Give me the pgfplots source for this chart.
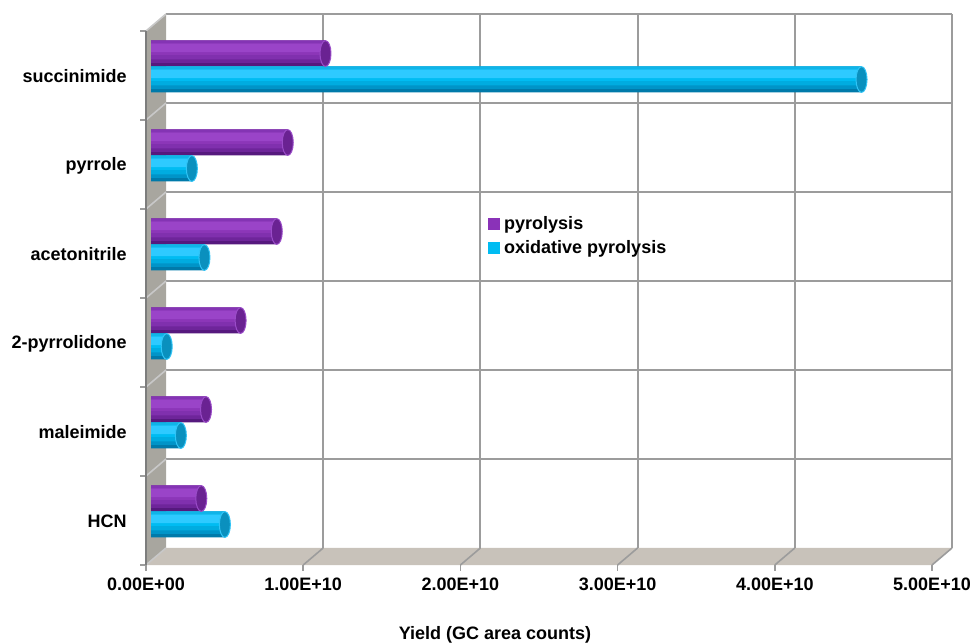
\documentclass[border=0pt]{standalone}
\usepackage{pgfplots}
\usepackage{pgfplotstable}
\pgfplotsset{compat=1.18}
\usepackage{fontspec}
\setmainfont{Liberation Sans}
\usetikzlibrary{shapes.geometric}

% purple cylinder tones, bottom to top
\definecolor{purpA}{HTML}{56197E}
\definecolor{purpB}{HTML}{6E259A}
\definecolor{purpC}{HTML}{8030AE}
\definecolor{purpD}{HTML}{8C36B8}
\definecolor{purpE}{HTML}{9A44C8}
\definecolor{purpF}{HTML}{8434B4}
\definecolor{purpEnd}{HTML}{6A2292}
\definecolor{purpRim}{HTML}{9A4CC8}
\definecolor{purpLeg}{HTML}{8A32B8}
% cyan cylinder tones, bottom to top
\definecolor{cyanA}{HTML}{007AAA}
\definecolor{cyanB}{HTML}{0094C8}
\definecolor{cyanC}{HTML}{00ACE0}
\definecolor{cyanD}{HTML}{00BCF2}
\definecolor{cyanE}{HTML}{2ECAFF}
\definecolor{cyanF}{HTML}{10B4E8}
\definecolor{cyanEnd}{HTML}{0A90BE}
\definecolor{cyanRim}{HTML}{30C4F6}
\definecolor{cyanLeg}{HTML}{00BCF2}
% walls and grid
\definecolor{wallSide}{HTML}{A8A69F}
\definecolor{wallFloor}{HTML}{C8C2BA}
\definecolor{gridGray}{HTML}{9C9C9C}

% yields (GC area counts); pos 0 = HCN ... 5 = succinimide
\pgfplotstableread{
pos pyr     oxid
0   0.32e10 0.47e10
1   0.35e10 0.19e10
2   0.57e10 0.10e10
3   0.80e10 0.34e10
4   0.87e10 0.26e10
5   1.11e10 4.52e10
}\yields

% depth offsets of the front and back planes relative to the bar plane
\tikzset{
  front/.style={shift={(-2.5bp,-4.5bp)}},
  back/.style={shift={(7.5bp,4bp)}},
}
\pgfplotsset{
  cyl/.style={xbar, draw=none, forget plot},
  cap/.style n args={3}{nodes near coords={},
    every node near coord/.append style={ellipse, anchor=center, inner sep=0pt,
      minimum width=5.5bp, minimum height=12.9bp, fill=#1, draw=#2,
      line width=0.5bp, yshift=#3}},
}

\begin{document}
\begin{tikzpicture}
\begin{axis}[
  set layers,
  scale only axis,
  width=393bp, height=267bp,
  xmin=0, xmax=5e10, ymin=-0.5, ymax=5.5,
  clip=false,
  axis line style={draw=none},
  tick style={draw=none},
  scaled x ticks=false,
  xtick={0,1e10,2e10,3e10,4e10,5e10},
  xticklabels={0.00E+00,1.00E+10,2.00E+10,3.00E+10,4.00E+10,5.00E+10},
  ytick={0,1,2,3,4,5},
  yticklabels={HCN,maleimide,2-pyrrolidone,acetonitrile,pyrrole,succinimide},
  ticklabel style={font=\fontsize{9bp}{10.8bp}\selectfont\bfseries, inner sep=0pt},
  xticklabel style={anchor=north, xshift=-2.5bp, yshift=-11bp},
  yticklabel style={anchor=east, xshift=-12bp, yshift=-5bp},
  xlabel={Yield (GC area counts)},
  xlabel style={at={(axis description cs:0.5,0)}, anchor=center,
    xshift=-24.5bp, yshift=-39.5bp, inner sep=0pt,
    font=\fontsize{9bp}{10.8bp}\selectfont\bfseries},
  legend style={at={(axis description cs:0.4288,0.645)}, anchor=north west,
    draw=none, fill=none, inner sep=0pt, row sep=0pt,
    font=\fontsize{9bp}{10.8bp}\selectfont\bfseries,
    cells={anchor=west}},
]
\begin{pgfonlayer}{axis background}
  % floor and side wall
  \fill[wallFloor] ([front]axis cs:0,-0.5) -- ([front]axis cs:5e10,-0.5)
    -- ([back]axis cs:5e10,-0.5) -- ([back]axis cs:0,-0.5) -- cycle;
  \fill[wallSide] ([front]axis cs:0,-0.5) -- ([front]axis cs:0,5.5)
    -- ([back]axis cs:0,5.5) -- ([back]axis cs:0,-0.5) -- cycle;
  % back wall grid, floor lines and ticks
  \pgfplotsinvokeforeach{1,2,3,4,5}{
    \draw[gridGray, line width=1bp] ([back]axis cs:#1e10,-0.5) -- ([back]axis cs:#1e10,5.5);
    \draw[gridGray, line width=0.8bp] ([front]axis cs:#1e10,-0.5) -- ([back]axis cs:#1e10,-0.5);
    \draw[gridGray, line width=0.8bp] ([front]axis cs:#1e10,-0.5) -- ([front,yshift=-3bp]axis cs:#1e10,-0.5);
  }
  \pgfplotsinvokeforeach{0.5,1.5,2.5,3.5,4.5,5.5}{
    \draw[gridGray, line width=1bp] ([back]axis cs:0,#1) -- ([back]axis cs:5e10,#1);
    \draw[gridGray!55, line width=0.8bp] ([front]axis cs:0,#1) -- ([back]axis cs:0,#1);
    \draw[gridGray, line width=0.8bp] ([front]axis cs:0,#1) -- ([front,xshift=-3bp]axis cs:0,#1);
  }
  \draw[gridGray!55, line width=0.8bp] ([front]axis cs:0,-0.5) -- ([back]axis cs:0,-0.5);
  \draw[gridGray, line width=0.8bp] ([front]axis cs:0,-0.5) -- ([front,xshift=-3bp]axis cs:0,-0.5);
  \draw[gridGray, line width=0.8bp] ([front]axis cs:0,-0.5) -- ([front,yshift=-3bp]axis cs:0,-0.5);
  \draw[gridGray!80!black, line width=0.8bp] ([front]axis cs:0,-0.5) -- ([front]axis cs:0,5.5);
\end{pgfonlayer}

% pyrolysis: cylinder shading built from stacked bands, end cap on top
\addplot[cyl, fill=purpA, bar width=0.29, bar shift=0.146] table[x=pyr, y=pos] {\yields};
\addplot[cyl, fill=purpB, bar width=0.25, bar shift=0.166] table[x=pyr, y=pos] {\yields};
\addplot[cyl, fill=purpC, bar width=0.21, bar shift=0.186] table[x=pyr, y=pos] {\yields};
\addplot[cyl, fill=purpD, bar width=0.16, bar shift=0.211] table[x=pyr, y=pos] {\yields};
\addplot[cyl, fill=purpE, bar width=0.10, bar shift=0.211] table[x=pyr, y=pos] {\yields};
\addplot[cyl, fill=purpF, bar width=0.03, bar shift=0.276,
  cap={purpEnd}{purpRim}{6.5bp}] table[x=pyr, y=pos] {\yields};

% oxidative pyrolysis
\addplot[cyl, fill=cyanA, bar width=0.29, bar shift=-0.146] table[x=oxid, y=pos] {\yields};
\addplot[cyl, fill=cyanB, bar width=0.25, bar shift=-0.126] table[x=oxid, y=pos] {\yields};
\addplot[cyl, fill=cyanC, bar width=0.21, bar shift=-0.106] table[x=oxid, y=pos] {\yields};
\addplot[cyl, fill=cyanD, bar width=0.16, bar shift=-0.081] table[x=oxid, y=pos] {\yields};
\addplot[cyl, fill=cyanE, bar width=0.10, bar shift=-0.081] table[x=oxid, y=pos] {\yields};
\addplot[cyl, fill=cyanF, bar width=0.03, bar shift=-0.016,
  cap={cyanEnd}{cyanRim}{-6.5bp}] table[x=oxid, y=pos] {\yields};

\addlegendimage{legend image code/.code={\fill[purpLeg] (0bp,-2.75bp) rectangle (5.5bp,2.75bp);}}
\addlegendentry{pyrolysis}
\addlegendimage{legend image code/.code={\fill[cyanLeg] (0bp,-2.75bp) rectangle (5.5bp,2.75bp);}}
\addlegendentry{oxidative pyrolysis}
\end{axis}
\pgfresetboundingbox
\path[use as bounding box] (-75.5bp,-44bp) rectangle (409.5bp,278bp);
\end{tikzpicture}
\end{document}
